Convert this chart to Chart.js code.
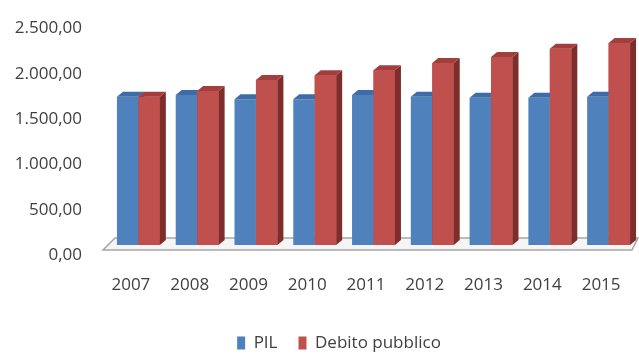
<!DOCTYPE html>
<html>
<head>
<meta charset="utf-8">
<script src="https://cdn.jsdelivr.net/npm/chart.js@4/dist/chart.umd.min.js"></script>
<style>
  html, body { margin: 0; padding: 0; background: #ffffff; overflow: hidden; }
  #c { display: block; }
</style>
</head>
<body>
<canvas id="c" width="639" height="354"></canvas>
<script>
// ---- data ----
const categories = ['2007', '2008', '2009', '2010', '2011', '2012', '2013', '2014', '2015'];
const pilValues = [1635, 1655, 1610, 1610, 1655, 1635, 1625, 1625, 1635];
const debitoValues = [1635, 1700, 1820, 1875, 1930, 2010, 2075, 2165, 2230];
const seriesNames = ['PIL', 'Debito pubblico'];
const yTickValues = [0, 500, 1000, 1500, 2000, 2500];
const yTickLabels = ['0,00', '500,00', '1.000,00', '1.500,00', '2.000,00', '2.500,00'];

const FRONT = ['#4F81BD', '#C0504D'];
const TOP = ['#3E6CA6', '#A23F3C'];
const SIDE = ['#2F5583', '#7E2D2B'];
const DX = 6, DY = 5;

function drawFaces(ctx, el, di) {
  const p = el.getProps(['x', 'y', 'base', 'width'], true);
  const l = p.x - p.width / 2, r = p.x + p.width / 2;
  const top = Math.min(p.y, p.base), bot = Math.max(p.y, p.base);
  ctx.fillStyle = SIDE[di];
  ctx.beginPath();
  ctx.moveTo(r, top); ctx.lineTo(r + DX, top - DY);
  ctx.lineTo(r + DX, bot - DY); ctx.lineTo(r, bot);
  ctx.closePath(); ctx.fill();
  ctx.fillStyle = TOP[di];
  ctx.beginPath();
  ctx.moveTo(l, top); ctx.lineTo(r, top);
  ctx.lineTo(r + DX, top - DY); ctx.lineTo(l + DX, top - DY);
  ctx.closePath(); ctx.fill();
}

const bars3d = {
  id: 'bars3d',
  afterLayout(chart) {
    // legend in the reference sits a little right of the canvas centre
    if (chart.legend) { chart.legend.left += 20; chart.legend.right += 20; }
  },
  beforeDatasetsDraw(chart) {
    const ctx = chart.ctx, a = chart.chartArea;
    ctx.save();
    ctx.fillStyle = '#f5f5f5';
    ctx.strokeStyle = '#a6a6a6';
    ctx.lineWidth = 1.5;
    ctx.beginPath();
    ctx.moveTo(a.left - 6, a.bottom + 5);
    ctx.lineTo(a.right - 6, a.bottom + 5);
    ctx.lineTo(a.right, a.bottom - 7);
    ctx.lineTo(a.left + 6, a.bottom - 7);
    ctx.closePath();
    ctx.fill(); ctx.stroke();
    ctx.restore();
  },
  afterDatasetsDraw(chart) {
    const ctx = chart.ctx;
    const m0 = chart.getDatasetMeta(0), m1 = chart.getDatasetMeta(1);
    ctx.save();
    for (let i = 0; i < m0.data.length; i++) {
      drawFaces(ctx, m0.data[i], 0);
      m1.data[i].draw(ctx);
      drawFaces(ctx, m1.data[i], 1);
    }
    ctx.restore();
  }
};

const FONT = { family: "'Open Sans', sans-serif", size: 17 };
const TEXT = '#404040';

new Chart(document.getElementById('c'), {
  type: 'bar',
  data: {
    labels: categories,
    datasets: [
      { label: seriesNames[0], data: pilValues, backgroundColor: FRONT[0], borderWidth: 0 },
      { label: seriesNames[1], data: debitoValues, backgroundColor: FRONT[1], borderWidth: 0 }
    ]
  },
  options: {
    responsive: false,
    animation: false,
    layout: { padding: { left: 0, right: 1, top: 18.5, bottom: -7.5 } },
    datasets: { bar: { categoryPercentage: 0.73, barPercentage: 1 } },
    scales: {
      x: {
        grid: { display: false, drawTicks: false },
        border: { display: false },
        ticks: { font: FONT, color: TEXT, padding: 30, labelOffset: -7.5, maxRotation: 0 },
        afterFit(s) { s.height = 68.5; s.paddingLeft = 0; s.paddingRight = 0; }
      },
      y: {
        min: 0, max: 2500,
        grid: { display: false, drawTicks: false },
        border: { display: false },
        afterBuildTicks(s) { s.ticks = yTickValues.map(v => ({ value: v })); },
        ticks: {
          font: FONT, color: TEXT, padding: 27, labelOffset: 10,
          callback(v) { const k = yTickValues.indexOf(v); return k >= 0 ? yTickLabels[k] : ''; }
        },
        afterFit(s) { s.width = 109; s.paddingTop = 0; s.paddingBottom = 0; }
      }
    },
    plugins: {
      legend: {
        position: 'bottom',
        labels: { font: FONT, color: TEXT, boxWidth: 8, boxHeight: 13, padding: 21 }
      },
      tooltip: { enabled: false }
    }
  },
  plugins: [bars3d]
});
</script>
</body>
</html>
